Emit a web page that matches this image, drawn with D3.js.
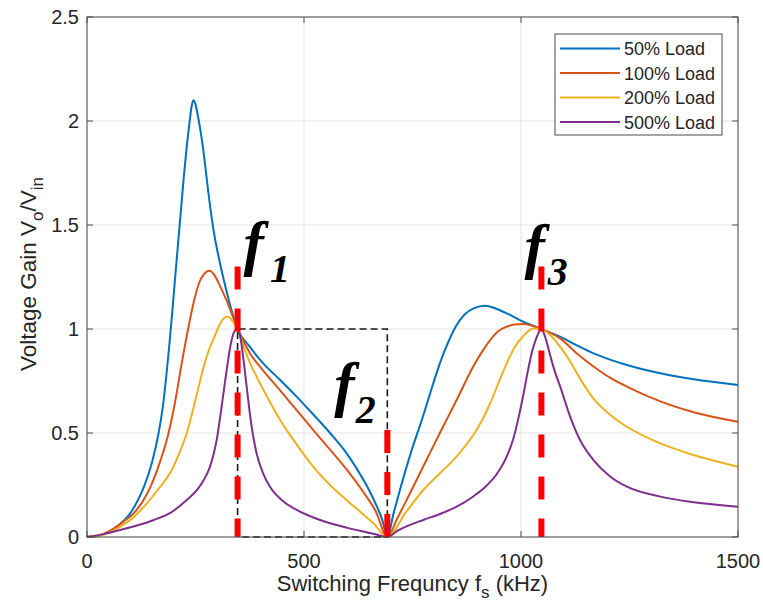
<!DOCTYPE html>
<html>
<head>
<meta charset="utf-8">
<script src="https://cdn.jsdelivr.net/npm/d3@7"></script>
<style>
  html, body { margin: 0; padding: 0; background: #fff; }
  svg { display: block; }
  text { font-family: Arial, "Liberation Sans", Helvetica, sans-serif; fill: #262626; }
</style>
</head>
<body>
<div id="chart"></div>
<script>
// Voltage gain vs switching frequency for four load levels: [kHz, gain]
const load50 = [[0,0],[25,0.006],[50,0.025],[75,0.06],[100,0.115],[118,0.18],[131,0.24],[150,0.36],[165,0.5],[175,0.63],[183,0.78],[190,0.93],[196,1.07],[202,1.22],[209,1.39],[216,1.56],[223,1.73],[230,1.88],[236,1.99],[241,2.07],[245,2.10],[250,2.08],[255,2.03],[261,1.96],[268,1.86],[276,1.72],[283,1.60],[292,1.47],[306,1.32],[320,1.195],[333,1.09],[347,1.0],[375,0.915],[406,0.835],[445,0.755],[483,0.675],[521,0.59],[560,0.50],[592,0.42],[621,0.33],[645,0.245],[665,0.16],[680,0.085],[692,0],[706,0.11],[721,0.226],[744,0.39],[775,0.585],[795,0.72],[813,0.835],[833,0.94],[852,1.02],[870,1.07],[892,1.10],[917,1.112],[940,1.10],[959,1.083],[982,1.06],[1005,1.035],[1047,1.0],[1090,0.963],[1130,0.92],[1167,0.883],[1205,0.853],[1244,0.827],[1321,0.787],[1398,0.758],[1500,0.731]];
const load100 = [[0,0],[30,0.008],[61,0.04],[85,0.075],[108,0.115],[128,0.17],[146,0.24],[168,0.36],[188,0.5],[203,0.65],[217,0.82],[232,0.99],[246,1.13],[258,1.22],[270,1.265],[282,1.28],[294,1.258],[308,1.2],[322,1.135],[347,1.0],[375,0.885],[406,0.80],[445,0.705],[483,0.61],[521,0.515],[560,0.42],[600,0.32],[637,0.215],[665,0.125],[692,0],[715,0.09],[737,0.18],[775,0.34],[813,0.50],[852,0.66],[890,0.82],[910,0.89],[929,0.947],[948,0.99],[967,1.011],[986,1.022],[1005,1.024],[1025,1.016],[1047,1.0],[1090,0.955],[1130,0.88],[1167,0.82],[1206,0.765],[1244,0.723],[1321,0.652],[1398,0.60],[1500,0.554]];
const load200 = [[0,0],[40,0.012],[77,0.05],[110,0.1],[138,0.162],[165,0.232],[192,0.31],[212,0.4],[230,0.5],[250,0.66],[269,0.82],[282,0.905],[295,0.97],[308,1.03],[316,1.053],[323,1.06],[330,1.052],[338,1.03],[347,1.0],[360,0.92],[375,0.84],[391,0.77],[420,0.655],[445,0.5625],[483,0.445],[521,0.338],[560,0.25],[598,0.178],[630,0.12],[660,0.066],[692,0],[735,0.12],[775,0.226],[815,0.31],[852,0.388],[890,0.49],[910,0.56],[929,0.643],[948,0.74],[967,0.835],[986,0.915],[1005,0.965],[1028,1.003],[1047,1.0],[1070,0.965],[1090,0.915],[1113,0.845],[1135,0.765],[1167,0.665],[1206,0.587],[1244,0.53],[1321,0.45],[1398,0.394],[1500,0.338]];
const load500 = [[0,0],[40,0.015],[77,0.034],[115,0.055],[154,0.082],[195,0.12],[231,0.18],[255,0.23],[269,0.274],[282,0.33],[292,0.40],[300,0.48],[307,0.58],[315,0.70],[323,0.82],[331,0.925],[339,0.985],[347,1.0],[353,0.965],[359,0.88],[368,0.72],[378,0.55],[391,0.40],[405,0.31],[422,0.24],[450,0.175],[483,0.13],[520,0.095],[560,0.066],[600,0.044],[637,0.026],[665,0.013],[692,0],[715,0.03],[740,0.055],[775,0.082],[815,0.112],[852,0.146],[890,0.195],[920,0.245],[945,0.305],[967,0.386],[982,0.47],[995,0.58],[1006,0.69],[1016,0.80],[1026,0.895],[1036,0.96],[1047,1.0],[1056,0.96],[1067,0.875],[1078,0.795],[1090,0.725],[1113,0.58],[1136,0.466],[1167,0.37],[1206,0.29],[1244,0.242],[1321,0.194],[1398,0.167],[1500,0.146]];

const seriesNames = ["50% Load", "100% Load", "200% Load", "500% Load"];
const seriesColors = ["#0072BD", "#D95319", "#EDB120", "#7E2F8E"];
const seriesData = [load50, load100, load200, load500];

const freqTicks = [0, 500, 1000, 1500];
const gainTicks = [0, 0.5, 1, 1.5, 2, 2.5];

// Characteristic frequencies f1, f2, f3 and the heights of their marker lines
const markerFreqs = [347, 692, 1047];
const markerTops = [1.3, 0.515, 1.3];
const markerLabels = ["1", "2", "3"];
// Dashed region between f1 and f2 up to unity gain
const boxFreqs = [347, 692];
const boxGain = 1.0;

const W = 763, H = 612;
const plot = { left: 87, right: 738, top: 17, bottom: 537 };

const svg = d3.select("#chart").append("svg")
  .attr("width", W).attr("height", H)
  .attr("viewBox", `0 0 ${W} ${H}`);
svg.append("rect").attr("width", W).attr("height", H).attr("fill", "#fff");

const x = d3.scaleLinear().domain([0, 1500]).range([plot.left, plot.right]);
const y = d3.scaleLinear().domain([0, 2.5]).range([plot.bottom, plot.top]);

// grid
const grid = svg.append("g");
grid.selectAll("line.gx").data(freqTicks).join("line")
  .attr("x1", d => x(d)).attr("x2", d => x(d))
  .attr("y1", plot.top).attr("y2", plot.bottom)
  .attr("stroke", "#e3e3e3").attr("stroke-width", 1);
grid.selectAll("line.gy").data(gainTicks).join("line")
  .attr("x1", plot.left).attr("x2", plot.right)
  .attr("y1", d => y(d)).attr("y2", d => y(d))
  .attr("stroke", "#e3e3e3").attr("stroke-width", 1);

// curves
const line = d3.line().x(d => x(d[0])).y(d => y(d[1])).curve(d3.curveMonotoneX);
svg.append("g").selectAll("path").data(seriesData).join("path")
  .attr("d", d => line(d))
  .attr("fill", "none")
  .attr("stroke", (d, i) => seriesColors[i])
  .attr("stroke-width", 2)
  .attr("stroke-linejoin", "round");

// black dashed region
const boxPts = [[boxFreqs[0], 0], [boxFreqs[0], boxGain], [boxFreqs[1], boxGain], [boxFreqs[1], 0], [boxFreqs[0], 0]];
svg.append("path")
  .attr("d", d3.line().x(d => x(d[0])).y(d => y(d[1]))(boxPts))
  .attr("fill", "none").attr("stroke", "#1a1a1a").attr("stroke-width", 1.6)
  .attr("stroke-dasharray", "7,4");

// red marker lines
svg.append("g").selectAll("line").data(markerFreqs).join("line")
  .attr("x1", d => x(d)).attr("x2", d => x(d))
  .attr("y1", (d, i) => y(markerTops[i])).attr("y2", y(0))
  .attr("stroke", "#ff0000").attr("stroke-width", 6)
  .attr("stroke-dasharray", "23,19");

// f labels (italic f with a subscript index)
const labelPos = [
  { dx: 6, y: 264, sub: 6 },
  { dx: -53, y: 405, sub: 1 },
  { dx: -17, y: 267, sub: 3 }
];
const flab = svg.append("g");
markerFreqs.forEach((f, i) => {
  const t = flab.append("text")
    .attr("x", x(f) + labelPos[i].dx).attr("y", labelPos[i].y)
    .style("font-family", "'Liberation Serif', 'Times New Roman', serif")
    .style("font-weight", "bold").style("font-style", "italic")
    .style("fill", "#000");
  t.append("tspan").style("font-size", "61px").text("f");
  t.append("tspan").attr("dx", labelPos[i].sub).attr("dy", 18).style("font-size", "40px").text(markerLabels[i]);
});

// axes frame and ticks
const axisColor = "#4d4d4d";
svg.append("rect")
  .attr("x", plot.left).attr("y", plot.top)
  .attr("width", plot.right - plot.left).attr("height", plot.bottom - plot.top)
  .attr("fill", "none").attr("stroke", axisColor).attr("stroke-width", 1);
const tickLen = 6;
const ticks = svg.append("g").attr("stroke", axisColor).attr("stroke-width", 1);
freqTicks.forEach(t => {
  ticks.append("line").attr("x1", x(t)).attr("x2", x(t)).attr("y1", plot.bottom).attr("y2", plot.bottom - tickLen);
  ticks.append("line").attr("x1", x(t)).attr("x2", x(t)).attr("y1", plot.top).attr("y2", plot.top + tickLen);
});
gainTicks.forEach(t => {
  ticks.append("line").attr("y1", y(t)).attr("y2", y(t)).attr("x1", plot.left).attr("x2", plot.left + tickLen);
  ticks.append("line").attr("y1", y(t)).attr("y2", y(t)).attr("x1", plot.right).attr("x2", plot.right - tickLen);
});

// tick labels
svg.append("g").selectAll("text").data(freqTicks).join("text")
  .attr("x", d => x(d)).attr("y", 568)
  .attr("text-anchor", "middle").style("font-size", "20px")
  .text(d => d);
svg.append("g").selectAll("text").data(gainTicks).join("text")
  .attr("x", 79).attr("y", d => y(d) + 7)
  .attr("text-anchor", "end").style("font-size", "20px")
  .text(d => d);

// axis titles
const xl = svg.append("text")
  .attr("x", (plot.left + plot.right) / 2).attr("y", 591)
  .attr("text-anchor", "middle").style("font-size", "22px");
xl.append("tspan").text("Switching Frequncy f");
xl.append("tspan").attr("dy", 7).style("font-size", "17px").text("s");
xl.append("tspan").attr("dy", -7).text(" (kHz)");

const yl = svg.append("text")
  .attr("transform", `translate(36,${(plot.top + plot.bottom) / 2 - 3}) rotate(-90)`)
  .attr("text-anchor", "middle").style("font-size", "22.5px");
yl.append("tspan").text("Voltage Gain V");
yl.append("tspan").attr("dy", 7).style("font-size", "17px").text("o");
yl.append("tspan").attr("dy", -7).text("/V");
yl.append("tspan").attr("dy", 7).style("font-size", "17px").text("in");

// legend
const lg = svg.append("g");
lg.append("rect").attr("x", 555).attr("y", 34).attr("width", 167).attr("height", 101)
  .attr("fill", "#fff").attr("stroke", "#4d4d4d").attr("stroke-width", 1);
seriesNames.forEach((name, i) => {
  const ry = 48.5 + i * 24.5;
  lg.append("line").attr("x1", 560).attr("x2", 620).attr("y1", ry).attr("y2", ry)
    .attr("stroke", seriesColors[i]).attr("stroke-width", 2);
  lg.append("text").attr("x", 624).attr("y", ry + 6.5).style("font-size", "18px").text(name);
});
</script>
</body>
</html>
